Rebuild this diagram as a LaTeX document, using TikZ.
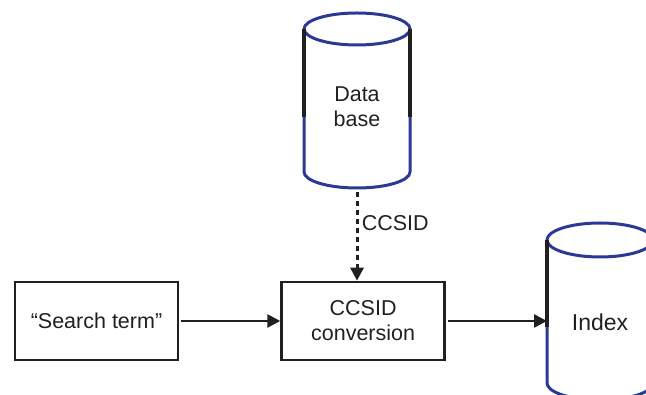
\documentclass[tikz,border=0pt]{standalone}
\usepackage{fontspec}
\setmainfont{Liberation Sans}
\usetikzlibrary{arrows.meta,positioning,calc}
\definecolor{rimblue}{RGB}{43,57,150}
\definecolor{ink}{RGB}{35,31,32}
\tikzset{box/.style={draw=ink, line width=2.6pt, rectangle, minimum width=163pt, minimum height=78pt, inner sep=2pt, align=center, text=ink}}
\tikzstyle{cyltext}=[inner sep=0pt, align=center, text=ink]
\tikzstyle{rim}=[draw=rimblue, line width=3pt]
\tikzstyle{side}=[draw=ink, line width=3.4pt]
\tikzstyle{flow}=[draw=ink, line width=2.6pt, -{Triangle[length=13pt,width=13pt]}]

\begin{document}
\begin{tikzpicture}[x=1pt, y=1pt, font=\fontsize{21.5pt}{25pt}\selectfont]
\useasboundingbox (0,0) rectangle (646,395);
\node[box] at (96.5,74) (search) {“Search term”};
\node[box][right=101pt of search] (conv) {CCSID\\conversion};
% data base
\coordinate (dbtop) at (357,366);
\coordinate (dbbot) at (357,203);
\draw[rim] (dbtop) ellipse [x radius=53pt, y radius=16pt];
\draw[side] ([xshift=-53pt]dbtop) -- ++(0,-88pt);
\draw[side] ([xshift=53pt]dbtop) -- ++(0,-88pt);
\draw[rim] ([xshift=-53pt,yshift=-88pt]dbtop) -- ++(0,-55pt)
	arc[start angle=180, end angle=360, x radius=53pt, y radius=16pt] -- ++(0,55pt);
\node[cyltext] at (357,288) (db) {Data\\base};
% index
\coordinate (idxtop) at (600,155);
\coordinate (idxleft) at (547,74);
\draw[rim] (idxtop) ellipse [x radius=53pt, y radius=17pt];
\draw[side] ([xshift=-53pt]idxtop) -- ++(0,-87pt);
\draw[side] ([xshift=53pt]idxtop) -- ++(0,-87pt);
\draw[rim] ([xshift=-53pt,yshift=-87pt]idxtop) -- ++(0,-56pt)
	arc[start angle=180, end angle=360, x radius=53pt, y radius=17pt] -- ++(0,56pt);
\node[cyltext, font=\fontsize{23pt}{27pt}\selectfont] at (600,73) (idx) {Index};

\draw[flow, shorten <=2pt] (search) -- (conv);
\draw[flow, shorten <=2pt] (conv) -- (idxleft);
\draw[flow, dash pattern=on 5pt off 4pt, line width=3pt] (dbbot) -- (dbbot |- conv.north)
	node[pos=0.35, right, text=ink] {CCSID};
\end{tikzpicture}
\end{document}
